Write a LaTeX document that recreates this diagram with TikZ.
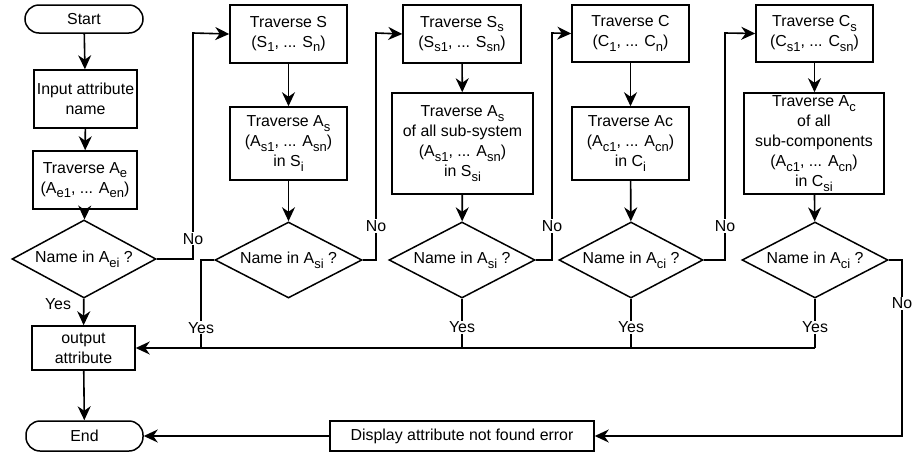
\documentclass[tikz,border=0pt]{standalone}
\usepackage{fontspec}
\setmainfont{Liberation Sans}
\usetikzlibrary{shapes.geometric,arrows.meta}
% lowered subscript used in the labels
\newcommand{\lo}[1]{\raisebox{-0.3em}{\fontsize{13}{13}\selectfont #1}}
\tikzset{
  every node/.style={font=\fontsize{15.9}{20}\selectfont},
  box/.style={draw, rectangle, line width=1.5pt, align=center, inner sep=0pt},
  term/.style={draw, rectangle, rounded corners=14pt, line width=1.5pt, inner sep=0pt},
  dec/.style={draw, diamond, aspect=1.9, line width=1.5pt, inner sep=0pt},
  line/.style={line width=1.5pt},
  arr/.style={line width=1.6pt, -{Stealth[length=14pt,width=13pt,inset=4.5pt]}},
  lbl/.style={fill=white, inner sep=1pt}
}
\begin{document}
\begin{tikzpicture}[x=1pt,y=-1pt]
\useasboundingbox (0,0) rectangle (914,453);

% first column
\node[term, minimum width=118pt, minimum height=28pt] (start) at (84,19) {Start};
\node[box, minimum width=103pt, minimum height=58pt] (input) at (85.5,99) {Input attribute\\name};
\node[box, minimum width=104pt, minimum height=58pt] (travAe) at (85,180) {Traverse A\lo{e}\\(A\lo{e1}, ... A\lo{en})};
\node[dec, minimum width=144pt, minimum height=78pt] (d1) at (84,259) {Name in A\lo{ei} ?};
\node[box, minimum width=103pt, minimum height=44pt] (out) at (83.5,348) {output\\attribute};
\node[term, minimum width=117pt, minimum height=30pt] (end) at (84.5,436) {End};
\node[box, minimum width=264pt, minimum height=30pt] (disp) at (462,436) {Display attribute not found error};

% systems
\node[box, minimum width=117pt, minimum height=58pt] (travS) at (288.5,34) {Traverse S\\(S\lo{1}, ... S\lo{n})};
\node[box, minimum width=117pt, minimum height=73pt] (travAs) at (288.5,143.5) {Traverse A\lo{s}\\(A\lo{s1}, ... A\lo{sn})\\in S\lo{i}};
\node[dec, minimum width=147pt, minimum height=76pt] (d2) at (288.5,260) {Name in A\lo{si} ?};

% sub-systems
\node[box, minimum width=118pt, minimum height=58pt] (travSs) at (462,34) {Traverse S\lo{s}\\(S\lo{s1}, ... S\lo{sn})};
\node[box, minimum width=141pt, minimum height=101pt] (travAss) at (462.5,143.5) {Traverse A\lo{s}\\of all sub-system\\(A\lo{s1}, ... A\lo{sn})\\in S\lo{si}};
\node[dec, minimum width=146pt, minimum height=76pt] (d3) at (462,260) {Name in A\lo{si} ?};

% components
\node[box, minimum width=117pt, minimum height=57pt] (travC) at (630.5,33.5) {Traverse C\\(C\lo{1}, ... C\lo{n})};
\node[box, minimum width=117pt, minimum height=73pt] (travAc) at (630.5,143.5) {Traverse Ac\\(A\lo{c1}, ... A\lo{cn})\\in C\lo{i}};
\node[dec, minimum width=144pt, minimum height=76pt] (d4) at (631,260) {Name in A\lo{ci} ?};

% sub-components
\node[box, minimum width=117pt, minimum height=57pt] (travCs) at (814.5,33.5) {Traverse C\lo{s}\\(C\lo{s1}, ... C\lo{sn})};
\node[box, minimum width=140pt, minimum height=101pt] (travAcs) at (814,143.5) {Traverse A\lo{c}\\of all\\sub-components\\(A\lo{c1}, ... A\lo{cn})\\in C\lo{si}};
\node[dec, minimum width=146pt, minimum height=76pt] (d5) at (815,260) {Name in A\lo{ci} ?};

% bends of the "No" loops
\coordinate (k1) at (193,33);
\coordinate (k2) at (376,33);
\coordinate (k3) at (552,33);
\coordinate (k4) at (725,33);
\coordinate (k5) at (902,436);
\coordinate (y2) at (201,348);

% main chain
\draw[arr] (start) -- (input);
\draw[arr] (input) -- (travAe);
\draw[arr] (travAe) -- (d1);
\draw[arr] (d1) -- node[pos=0.2, left=12pt, inner sep=0pt]{Yes} (out);
\draw[arr] (out) -- (end);

\draw[arr] (travS) -- (travAs);
\draw[arr] (travAs) -- (d2);
\draw[arr] (travSs) -- (travAss);
\draw[arr] (travAss) -- (d3);
\draw[arr] (travC) -- (travAc);
\draw[arr] (travAc) -- (d4);
\draw[arr] (travCs) -- (travCs |- travAcs.north);
\draw[arr] (travCs |- travAcs.south) -- (d5);

% "No" loops to the next level
\draw[arr] (d1.east) -- (d1.east -| k1) -- node[pos=0.09, lbl]{No} (k1) -- (travS.west);
\draw[arr] (d2.east) -- (d2.east -| k2) -- node[pos=0.15, lbl]{No} (k2) -- (travSs.west);
\draw[arr] (d3.east) -- (d3.east -| k3) -- node[pos=0.15, lbl]{No} (k3) -- (travC.west);
\draw[arr] (d4.east) -- (d4.east -| k4) -- node[pos=0.15, lbl]{No} (k4) -- (travCs.west);
\draw[arr] (d5.east) -- (d5.east -| k5) -- node[pos=0.245, lbl]{No} (k5) -- (disp.east);

% "Yes" branches joining the return line
\draw[line] (d2.west) -- (d2.west -| y2) -- node[pos=0.77, lbl]{Yes} (y2);
\draw[line] (d3.south) -- node[pos=0.58, lbl]{Yes} (d3.south |- out.east);
\draw[line] (d4.south) -- node[pos=0.58, lbl]{Yes} (d4.south |- out.east);
\draw[line] (d5.south) -- node[pos=0.58, lbl]{Yes} (d5.south |- out.east);
\draw[arr] (d5.south |- out.east) -- (out.east);

% error exit
\draw[arr] (disp) -- (end);
\end{tikzpicture}
\end{document}
